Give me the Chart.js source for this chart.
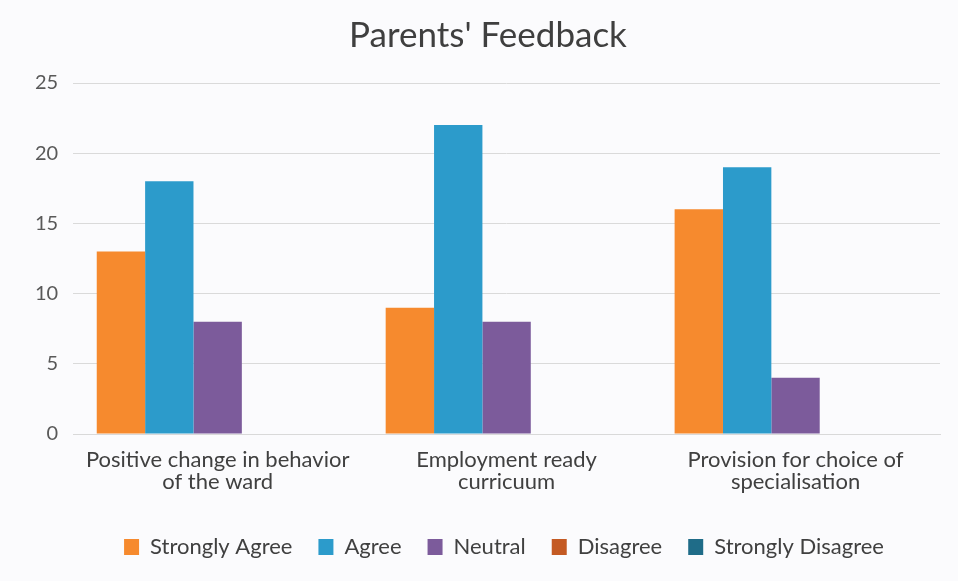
<!DOCTYPE html>
<html>
<head>
<meta charset="utf-8">
<script src="https://cdn.jsdelivr.net/npm/chart.js@4"></script>
<style>
  html, body { margin: 0; padding: 0; background: #fbfbfd; }
  #wrap { width: 958px; height: 581px; }
</style>
</head>
<body>
<div id="wrap"><canvas id="c" width="958" height="581"></canvas></div>
<script>
const categories = [
  ["Positive change in behavior", "of the ward"],
  ["Employment ready", "curricuum"],
  ["Provision for choice of", "specialisation"]
];
const seriesNames = ["Strongly Agree", "Agree", "Neutral", "Disagree", "Strongly Disagree"];
const stronglyAgree = [13, 9, 16];
const agree = [18, 22, 19];
const neutral = [8, 8, 4];
const disagree = [0, 0, 0];
const stronglyDisagree = [0, 0, 0];
const yTicks = [0, 5, 10, 15, 20, 25];

const colors = ["#F68A2E", "#2C9BCB", "#7C5B9B", "#C45A23", "#1F6C88"];
const values = [stronglyAgree, agree, neutral, disagree, stronglyDisagree];

const font = "Lato, 'Open Sans', sans-serif";

// shift title and legend horizontally like the original layout
const shiftPlugin = {
  id: "shiftBoxes",
  afterLayout(chart) {
    const lg = chart.legend, tb = chart.titleBlock;
    if (lg) { lg.left += 24; lg.right += 24; }
    if (tb) { tb.left += 8; tb.right += 8; }
  }
};

new Chart(document.getElementById("c"), {
  type: "bar",
  data: {
    labels: categories,
    datasets: seriesNames.map((n, i) => ({
      label: n,
      data: values[i],
      backgroundColor: colors[i],
      borderWidth: 0,
      categoryPercentage: 0.837,
      barPercentage: 1.0
    }))
  },
  plugins: [shiftPlugin],
  options: {
    responsive: false,
    animation: false,
    layout: { padding: { left: 20, right: 18, top: 8, bottom: 13 } },
    plugins: {
      title: {
        display: true,
        text: "Parents' Feedback",
        color: "#3f3f3f",
        font: { family: font, size: 35, weight: "normal", lineHeight: 1.2 },
        padding: { top: 7, bottom: 26 }
      },
      legend: {
        position: "bottom",
        labels: {
          color: "#404040",
          font: { family: font, size: 22 },
          boxWidth: 15,
          boxHeight: 16,
          padding: 26
        }
      },
      tooltip: { enabled: false }
    },
    scales: {
      x: {
        grid: { display: false, drawTicks: false },
        border: { display: true, color: "#d9d9d9", width: 1 },
        ticks: {
          color: "#404040",
          font: { family: font, size: 22, lineHeight: 1.0 },
          padding: 15,
          maxRotation: 0
        },
        afterFit: (axis) => { axis.height += 2; }
      },
      y: {
        min: 0,
        max: 25,
        afterBuildTicks: (axis) => { axis.ticks = yTicks.map(v => ({ value: v })); },
        grid: { color: "#dadada", drawTicks: false },
        border: { display: false },
        ticks: {
          color: "#595959",
          font: { family: font, size: 20 },
          padding: 15
        }
      }
    }
  }
});
</script>
</body>
</html>
